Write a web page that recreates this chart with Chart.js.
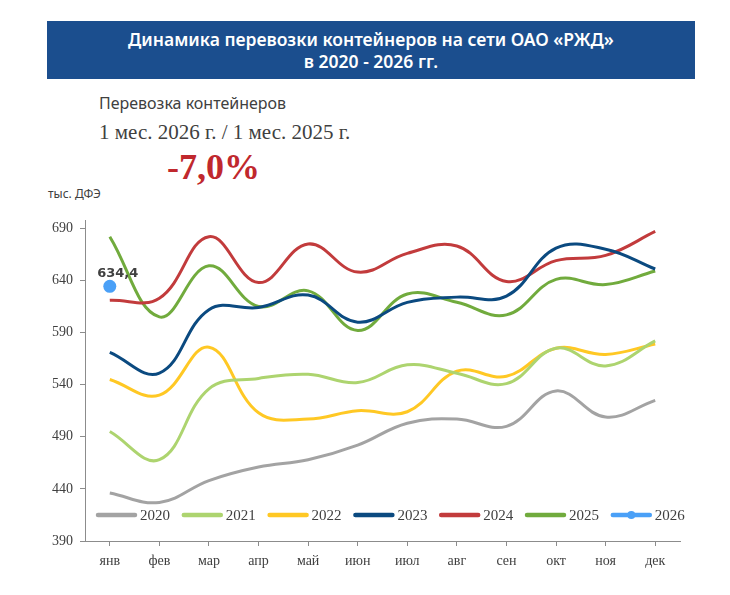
<!DOCTYPE html>
<html>
<head>
<meta charset="utf-8">
<script src="https://cdn.jsdelivr.net/npm/chart.js@4.4.1/dist/chart.umd.min.js"></script>
<style>
  body { margin: 0; background: #fff; }
  #page { position: relative; width: 730px; height: 595px; overflow: hidden; }
  #banner {
    position: absolute; left: 47px; top: 21px; width: 648px; height: 58px;
    background: #1b4e8e; color: #fff; text-align: center;
    font: 600 17.5px "Noto Sans", sans-serif; line-height: 22px; padding-top: 7px; box-sizing: border-box;
  }
  .txt { position: absolute; white-space: nowrap; }
  #sub1 { left: 99px; top: 92px; font: 16px "Noto Sans", sans-serif; color: #404040; }
  #sub2 { left: 99px; top: 120px; font: 21px "Liberation Serif", serif; color: #404040; }
  #pct { left: 167px; top: 146px; font: bold 36px "Liberation Serif", serif; color: #c0282d; }
  #unit { left: 48px; top: 185px; font: 12px "Noto Sans", sans-serif; color: #404040; }
  #graph { position: absolute; left: 0; top: 0; }
</style>
</head>
<body>
<div id="page">
  <div id="banner">Динамика перевозки контейнеров на сети ОАО «РЖД»<br>в 2020 - 2026 гг.</div>
  <div class="txt" id="sub1">Перевозка контейнеров</div>
  <div class="txt" id="sub2">1 мес. 2026 г. / 1 мес. 2025 г.</div>
  <div class="txt" id="pct">-7,0%</div>
  <div class="txt" id="unit">тыс. ДФЭ</div>
  <canvas id="graph" width="730" height="595"></canvas>
</div>
<script>
var months = ['янв', 'фев', 'мар', 'апр', 'май', 'июн', 'июл', 'авг', 'сен', 'окт', 'ноя', 'дек'];
var years = ['2020', '2021', '2022', '2023', '2024', '2025', '2026'];
var colors = ['#a3a3a3', '#add46f', '#ffc824', '#0b4a80', '#c23b3c', '#71ab3d', '#4aa0f7'];

var v2020 = [436, 427, 448, 461, 468, 482, 503, 507, 500, 534, 509, 525];
var v2021 = [495, 468, 536, 546, 550, 542, 559, 551, 541, 575, 558, 582];
var v2022 = [545, 530, 576, 513, 507, 515, 514, 553, 548, 575, 569, 579];
var v2023 = [571, 551, 612, 614, 626, 600, 619, 624, 625, 671, 670, 651];
var v2024 = [621, 623, 682, 638, 675, 648, 666, 673, 639, 659, 664, 687];
var v2025 = [682, 605, 654, 615, 630, 592, 627, 619, 607, 641, 636, 649];
var v2026 = [634.4];

var yTicks = [390, 440, 490, 540, 590, 640, 690];
var yMin = 390, yMax = 698;

var series = [v2020, v2021, v2022, v2023, v2024, v2025, v2026];

var datasets = series.map(function (vals, i) {
    var last = i === series.length - 1;
    return {
        label: years[i],
        data: vals,
        borderColor: colors[i],
        backgroundColor: colors[i],
        borderWidth: 3,
        tension: 0.4,
        pointRadius: last ? 6.5 : 0,
        pointHoverRadius: last ? 6.5 : 0,
        pointBorderWidth: 0,
        fill: false
    };
});

// legend drawn inside the plot area, bottom-left
var innerLegend = {
    id: 'innerLegend',
    afterDraw: function (chart) {
        var c = chart.ctx, area = chart.chartArea;
        var y = area.bottom - 26;
        var x = area.left + 13;
        c.save();
        c.font = '15px "Liberation Serif", serif';
        c.textBaseline = 'middle';
        chart.data.datasets.forEach(function (ds, i) {
            var x0 = x + i * 85.8;
            c.strokeStyle = ds.borderColor;
            c.lineWidth = 4.5;
            c.lineCap = 'round';
            c.beginPath();
            c.moveTo(x0, y);
            c.lineTo(x0 + 37, y);
            c.stroke();
            if (i === chart.data.datasets.length - 1) {
                c.fillStyle = ds.borderColor;
                c.beginPath();
                c.arc(x0 + 18.5, y, 4, 0, Math.PI * 2);
                c.fill();
            }
            c.fillStyle = '#404040';
            c.fillText(ds.label, x0 + 42, y + 1);
        });
        c.restore();
    }
};

// value label above the single 2026 point
var pointLabel = {
    id: 'pointLabel',
    afterDatasetsDraw: function (chart) {
        var idx = chart.data.datasets.length - 1;
        var meta = chart.getDatasetMeta(idx);
        var c = chart.ctx;
        c.save();
        c.font = 'bold 13px "DejaVu Sans", sans-serif';
        c.fillStyle = '#404040';
        c.textAlign = 'center';
        c.textBaseline = 'bottom';
        meta.data.forEach(function (pt, j) {
            var v = chart.data.datasets[idx].data[j];
            c.fillText(v.toFixed(1).replace('.', ','), pt.x + 8, pt.y - 6);
        });
        c.restore();
    }
};

var ctx = document.getElementById('graph');
var graph = new Chart(ctx, {
    type: 'line',
    data: { labels: months, datasets: datasets },
    plugins: [innerLegend, pointLabel],
    options: {
        responsive: false,
        animation: false,
        layout: { padding: { top: 220, right: 50, left: 0, bottom: 0 } },
        plugins: {
            legend: { display: false },
            tooltip: { enabled: false },
            title: { display: false }
        },
        scales: {
            x: {
                offset: true,
                grid: { offset: false, drawOnChartArea: false, drawTicks: true, tickLength: 5, color: '#8c8c8c' },
                border: { color: '#8c8c8c', width: 1 },
                ticks: { color: '#404040', font: { family: 'Liberation Serif', size: 14 }, padding: 7 },
                afterFit: function (s) { s.height = 54; }
            },
            y: {
                min: yMin,
                max: yMax,
                grid: { drawOnChartArea: false, drawTicks: true, tickLength: 5, color: '#8c8c8c' },
                border: { color: '#8c8c8c', width: 1 },
                ticks: { color: '#404040', font: { family: 'Liberation Serif', size: 14 }, padding: 7 },
                afterBuildTicks: function (s) {
                    s.ticks = yTicks.map(function (v) { return { value: v }; });
                },
                afterFit: function (s) { s.width = 85; }
            }
        }
    }
});
</script>
</body>
</html>
